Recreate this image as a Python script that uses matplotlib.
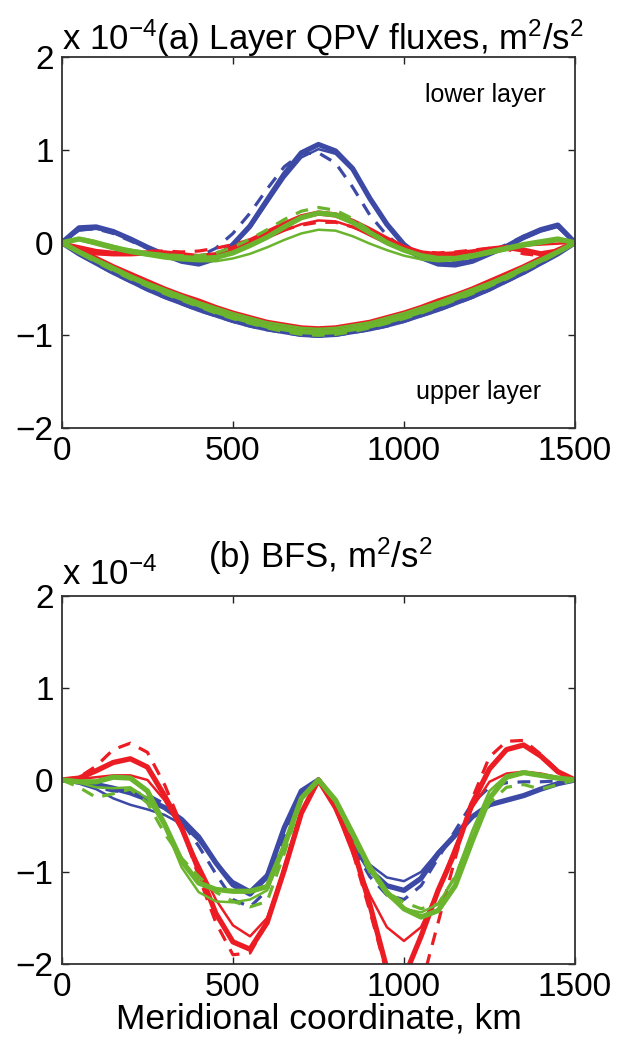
import matplotlib
matplotlib.use('Agg')
import matplotlib.pyplot as plt
import numpy as np

plt.rcParams['font.family'] = ['Liberation Sans', 'DejaVu Sans']
plt.rcParams['mathtext.default'] = 'regular'

# meridional coordinate, km
x_km = np.arange(0, 1501, 50)

# (a) lower layer QPV fluxes, x 1e-4
a_lo_blue_thick = [0, 0.16, 0.17, 0.12, 0.04, -0.05, -0.13, -0.2, -0.23, -0.17, -0.02, 0.18, 0.46, 0.74, 0.97, 1.06, 0.99, 0.8, 0.48, 0.2, -0.02, -0.16, -0.23, -0.24, -0.2, -0.12, -0.04, 0.06, 0.14, 0.19, 0]
a_lo_blue_thin = [0, 0.13, 0.15, 0.11, 0.04, -0.04, -0.12, -0.18, -0.21, -0.16, -0.03, 0.16, 0.43, 0.7, 0.92, 1.01, 0.96, 0.78, 0.47, 0.19, -0.03, -0.16, -0.22, -0.23, -0.19, -0.12, -0.05, 0.04, 0.12, 0.17, 0]
a_lo_blue_dash = [0, 0.14, 0.15, 0.1, 0.02, -0.06, -0.13, -0.17, -0.15, -0.06, 0.1, 0.32, 0.58, 0.82, 0.96, 0.97, 0.86, 0.6, 0.3, 0.08, -0.07, -0.17, -0.21, -0.21, -0.17, -0.1, -0.02, 0.07, 0.14, 0.17, 0]
a_lo_red_thick = [0, -0.08, -0.11, -0.12, -0.12, -0.11, -0.11, -0.13, -0.15, -0.13, -0.06, 0.02, 0.11, 0.2, 0.28, 0.32, 0.3, 0.23, 0.14, 0.04, -0.05, -0.11, -0.13, -0.12, -0.1, -0.07, -0.05, -0.08, -0.12, -0.09, 0]
a_lo_red_thin = [0, -0.04, -0.08, -0.1, -0.12, -0.13, -0.14, -0.15, -0.16, -0.15, -0.1, -0.03, 0.05, 0.13, 0.2, 0.24, 0.23, 0.17, 0.08, -0.01, -0.08, -0.12, -0.14, -0.13, -0.11, -0.08, -0.05, -0.03, -0.02, -0.01, 0]
a_lo_red_dash = [0, -0.06, -0.1, -0.11, -0.1, -0.09, -0.09, -0.1, -0.09, -0.06, -0.02, 0.03, 0.08, 0.14, 0.19, 0.22, 0.22, 0.17, 0.1, 0.02, -0.05, -0.1, -0.11, -0.1, -0.08, -0.06, -0.07, -0.12, -0.14, -0.1, 0]
a_lo_green_thick = [0, 0.04, 0.0, -0.05, -0.09, -0.12, -0.14, -0.16, -0.17, -0.16, -0.11, -0.03, 0.06, 0.17, 0.27, 0.32, 0.3, 0.22, 0.11, 0.0, -0.08, -0.14, -0.17, -0.17, -0.14, -0.1, -0.06, -0.02, 0.01, 0.04, 0]
a_lo_green_thin = [0, 0.03, -0.02, -0.07, -0.11, -0.14, -0.17, -0.19, -0.2, -0.2, -0.17, -0.12, -0.05, 0.03, 0.1, 0.14, 0.13, 0.07, -0.01, -0.08, -0.14, -0.18, -0.2, -0.19, -0.16, -0.12, -0.08, -0.04, -0.01, 0.02, 0]
a_lo_green_dash = [0, 0.05, 0.01, -0.04, -0.08, -0.11, -0.13, -0.14, -0.14, -0.11, -0.05, 0.04, 0.14, 0.25, 0.34, 0.38, 0.35, 0.26, 0.13, 0.01, -0.08, -0.14, -0.16, -0.16, -0.13, -0.09, -0.05, -0.02, 0.01, 0.03, 0]

# (a) upper layer
a_up_blue_thick = [0, -0.12, -0.22, -0.32, -0.41, -0.5, -0.58, -0.65, -0.72, -0.78, -0.84, -0.89, -0.93, -0.96, -0.99, -1.0, -0.99, -0.96, -0.93, -0.89, -0.84, -0.78, -0.72, -0.65, -0.58, -0.5, -0.41, -0.32, -0.22, -0.12, 0]
a_up_blue_thin = [0, -0.11, -0.21, -0.3, -0.39, -0.48, -0.56, -0.63, -0.7, -0.76, -0.82, -0.87, -0.91, -0.94, -0.97, -0.98, -0.97, -0.94, -0.91, -0.87, -0.82, -0.76, -0.7, -0.63, -0.56, -0.48, -0.39, -0.3, -0.21, -0.11, 0]
a_up_blue_dash = [0, -0.12, -0.23, -0.33, -0.42, -0.51, -0.59, -0.66, -0.73, -0.79, -0.85, -0.9, -0.94, -0.97, -1.0, -1.01, -1.0, -0.97, -0.94, -0.9, -0.85, -0.79, -0.73, -0.66, -0.59, -0.51, -0.42, -0.33, -0.23, -0.12, 0]
a_up_red_thick = [0, -0.08, -0.17, -0.26, -0.34, -0.42, -0.5, -0.57, -0.63, -0.7, -0.76, -0.81, -0.86, -0.89, -0.92, -0.93, -0.92, -0.89, -0.86, -0.81, -0.76, -0.7, -0.63, -0.57, -0.5, -0.42, -0.34, -0.26, -0.17, -0.08, 0]
a_up_red_thin = [0, -0.09, -0.19, -0.28, -0.37, -0.45, -0.53, -0.6, -0.66, -0.73, -0.79, -0.84, -0.88, -0.92, -0.94, -0.95, -0.94, -0.92, -0.88, -0.84, -0.79, -0.73, -0.66, -0.6, -0.53, -0.45, -0.37, -0.28, -0.19, -0.09, 0]
a_up_red_dash = [0, -0.1, -0.2, -0.29, -0.38, -0.46, -0.54, -0.61, -0.68, -0.74, -0.8, -0.85, -0.89, -0.93, -0.95, -0.96, -0.95, -0.93, -0.89, -0.85, -0.8, -0.74, -0.68, -0.61, -0.54, -0.46, -0.38, -0.29, -0.2, -0.1, 0]
a_up_green_thick = [0, -0.1, -0.19, -0.28, -0.37, -0.45, -0.53, -0.6, -0.67, -0.74, -0.8, -0.85, -0.9, -0.93, -0.96, -0.97, -0.96, -0.93, -0.9, -0.85, -0.8, -0.74, -0.67, -0.6, -0.53, -0.45, -0.37, -0.28, -0.19, -0.1, 0]
a_up_green_thin = [0, -0.09, -0.18, -0.26, -0.35, -0.43, -0.5, -0.57, -0.64, -0.7, -0.76, -0.81, -0.86, -0.89, -0.92, -0.93, -0.92, -0.89, -0.86, -0.81, -0.76, -0.7, -0.64, -0.57, -0.5, -0.43, -0.35, -0.26, -0.18, -0.09, 0]
a_up_green_dash = [0, -0.11, -0.21, -0.3, -0.39, -0.47, -0.55, -0.62, -0.69, -0.76, -0.82, -0.87, -0.92, -0.96, -0.99, -1.0, -0.99, -0.96, -0.92, -0.87, -0.82, -0.76, -0.69, -0.62, -0.55, -0.47, -0.39, -0.3, -0.21, -0.11, 0]

# (b) BFS, x 1e-4
b_blue_thick = [0, -0.02, -0.05, -0.09, -0.14, -0.21, -0.3, -0.43, -0.62, -0.9, -1.14, -1.24, -1.05, -0.52, -0.12, 0, -0.25, -0.68, -0.98, -1.15, -1.2, -1.07, -0.8, -0.6, -0.4, -0.27, -0.22, -0.17, -0.1, -0.04, 0]
b_blue_thin = [0, -0.04, -0.1, -0.2, -0.27, -0.32, -0.38, -0.48, -0.66, -0.9, -1.1, -1.2, -1.02, -0.52, -0.12, 0, -0.24, -0.64, -0.92, -1.06, -1.1, -1.0, -0.78, -0.58, -0.4, -0.28, -0.22, -0.17, -0.1, -0.04, 0]
b_blue_dash = [0, -0.03, -0.08, -0.12, -0.13, -0.16, -0.26, -0.45, -0.72, -1.02, -1.3, -1.38, -1.2, -0.62, -0.14, 0, -0.26, -0.72, -1.05, -1.25, -1.3, -1.15, -0.85, -0.55, -0.25, -0.08, -0.03, -0.02, -0.02, -0.01, 0]
b_red_thick = [0, 0.02, 0.1, 0.19, 0.23, 0.14, -0.17, -0.52, -0.98, -1.45, -1.76, -1.84, -1.55, -0.98, -0.36, 0, -0.3, -0.72, -1.35, -2.05, -2.15, -1.7, -1.2, -0.78, -0.25, 0.12, 0.33, 0.38, 0.26, 0.09, 0]
b_red_thin = [0, 0.01, 0.03, 0.05, 0.05, 0.0, -0.22, -0.55, -0.92, -1.3, -1.58, -1.7, -1.5, -0.98, -0.38, 0, -0.32, -0.8, -1.25, -1.6, -1.75, -1.6, -1.2, -0.72, -0.3, -0.02, 0.07, 0.09, 0.07, 0.03, 0]
b_red_dash = [0, 0.03, 0.15, 0.33, 0.4, 0.3, -0.05, -0.5, -1.05, -1.55, -1.9, -1.88, -1.55, -0.95, -0.34, 0, -0.3, -0.78, -1.42, -2.1, -2.4, -2.25, -1.55, -0.85, -0.2, 0.25, 0.42, 0.43, 0.28, 0.1, 0]
b_green_thick = [0, -0.02, -0.02, 0.03, 0.02, -0.12, -0.48, -0.88, -1.12, -1.19, -1.21, -1.21, -1.16, -0.72, -0.2, 0, -0.22, -0.58, -0.95, -1.22, -1.4, -1.49, -1.42, -1.15, -0.66, -0.2, 0.03, 0.08, 0.05, 0.02, 0]
b_green_thin = [0, -0.03, -0.08, -0.09, -0.08, -0.2, -0.5, -0.95, -1.22, -1.32, -1.33, -1.3, -1.2, -0.72, -0.2, 0, -0.22, -0.6, -0.98, -1.25, -1.4, -1.44, -1.35, -1.05, -0.55, -0.12, 0.05, 0.08, 0.05, 0.02, 0]
b_green_dash = [0, -0.08, -0.19, -0.15, -0.1, -0.25, -0.58, -0.85, -1.05, -1.22, -1.32, -1.38, -1.32, -0.8, -0.22, 0, -0.22, -0.62, -1.0, -1.22, -1.33, -1.4, -1.35, -1.05, -0.6, -0.25, -0.08, -0.05, -0.1, -0.05, 0]

blue = '#3c4aa6'
red = '#ec1c24'
green = '#6ab42e'

thick = dict(lw=3.8, ls='-', solid_capstyle='round', solid_joinstyle='round')
thin = dict(lw=1.8, ls='-', solid_joinstyle='round')
dash = dict(lw=2.3, ls=(0, (4, 3)))

fig = plt.figure(figsize=(6.32, 10.52), dpi=100)
ax1 = fig.add_axes([0.098, 0.5932, 0.8117, 0.3522])
ax2 = fig.add_axes([0.098, 0.0837, 0.8117, 0.3498])

def draw(ax, col, th, tn, ds):
    ax.plot(x_km, th, color=col, **thick)
    ax.plot(x_km, tn, color=col, **thin)
    ax.plot(x_km, ds, color=col, **dash)

draw(ax1, blue, a_up_blue_thick, a_up_blue_thin, a_up_blue_dash)
draw(ax1, blue, a_lo_blue_thick, a_lo_blue_thin, a_lo_blue_dash)
draw(ax1, red, a_up_red_thick, a_up_red_thin, a_up_red_dash)
draw(ax1, red, a_lo_red_thick, a_lo_red_thin, a_lo_red_dash)
draw(ax1, green, a_up_green_thick, a_up_green_thin, a_up_green_dash)
draw(ax1, green, a_lo_green_thick, a_lo_green_thin, a_lo_green_dash)

draw(ax2, blue, b_blue_thick, b_blue_thin, b_blue_dash)
draw(ax2, red, b_red_thick, b_red_thin, b_red_dash)
draw(ax2, green, b_green_thick, b_green_thin, b_green_dash)

for ax in (ax1, ax2):
    ax.set_xlim(0, 1500)
    ax.set_ylim(-2, 2)
    ax.set_xticks([0, 500, 1000, 1500])
    ax.set_yticks([-2, -1, 0, 1, 2])
    ax.tick_params(direction='in', top=True, right=True, length=5, width=1,
                   labelsize=24, pad=6, colors='#222222', labelcolor='black')
    for s in ax.spines.values():
        s.set_linewidth(1.3)
        s.set_color('#333333')

ax1.text(0.825, 0.899, 'lower layer', transform=ax1.transAxes,
         ha='center', va='center', fontsize=18)
ax1.text(0.813, 0.097, 'upper layer', transform=ax1.transAxes,
         ha='center', va='center', fontsize=18)

fig.text(0.098, 0.9525, 'x 10$^{\u22124}$(a) Layer QPV fluxes, m$^2$/s$^2$',
         ha='left', va='baseline', fontsize=25)
fig.text(0.098, 0.4439, 'x 10$^{\u22124}$', ha='left', va='baseline', fontsize=25)
fig.text(0.506, 0.46, '(b) BFS, m$^2$/s$^2$', ha='center', va='baseline', fontsize=25)
fig.text(0.505, 0.022, 'Meridional coordinate, km', ha='center', va='baseline', fontsize=25.5)

fig.savefig('out.png', dpi=100)
